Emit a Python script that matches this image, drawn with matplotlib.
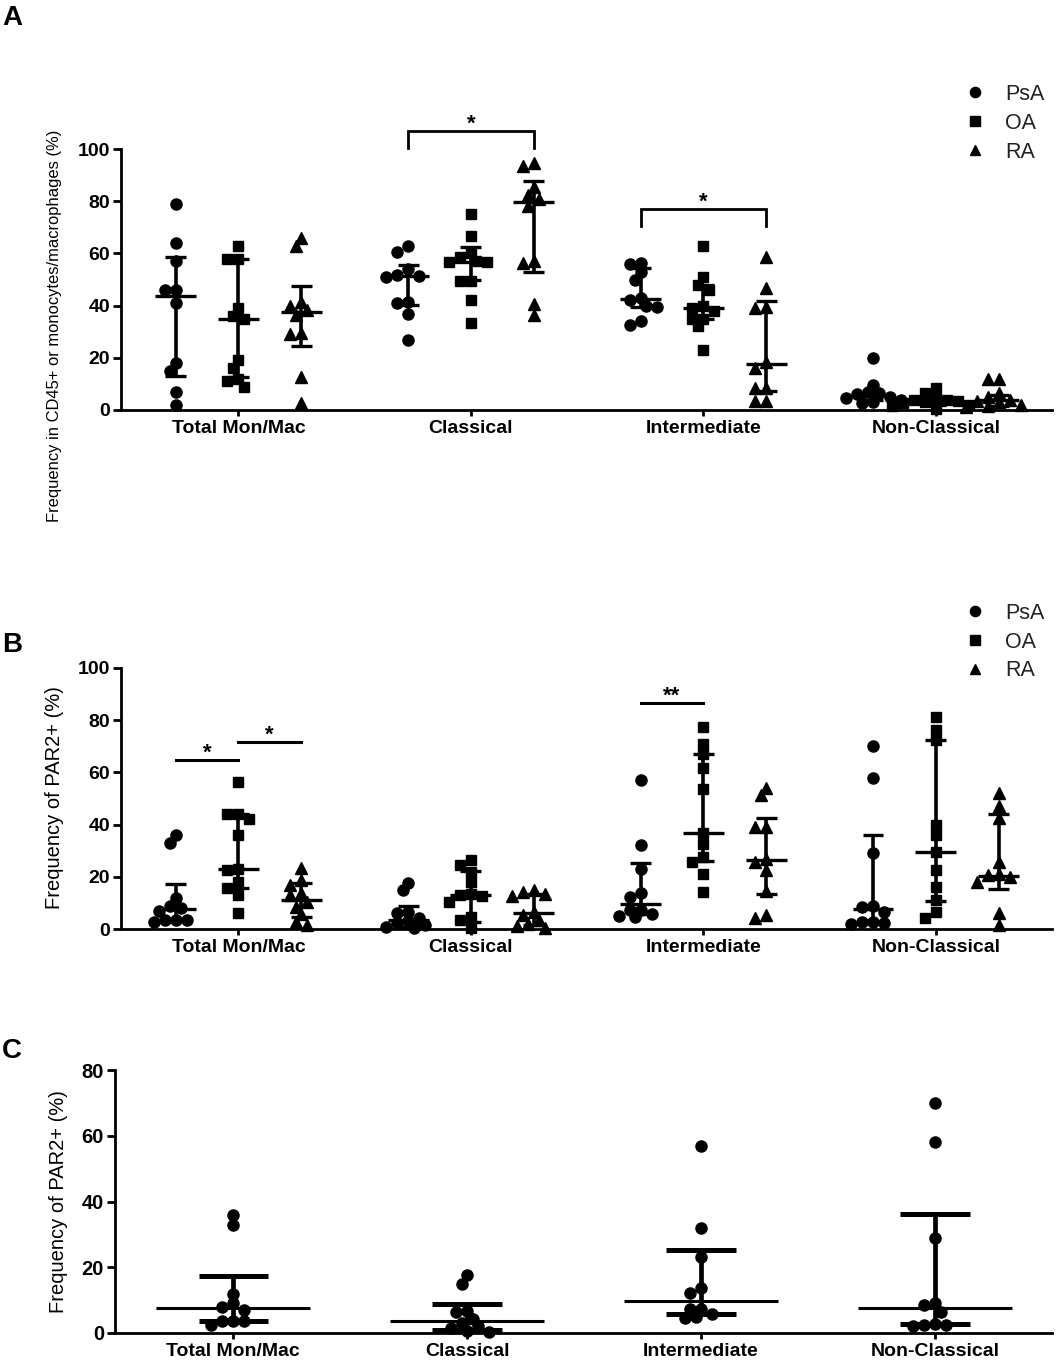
import numpy as np
import matplotlib
matplotlib.use("Agg")
import matplotlib.pyplot as plt
from matplotlib.lines import Line2D

plt.rcParams['font.family'] = ['Liberation Sans', 'DejaVu Sans']

# ---------------- data ----------------
categories = ["Total Mon/Mac", "Classical", "Intermediate", "Non-Classical"]
groups = ["PsA", "OA", "RA"]

# Panel A: frequency in CD45+ or monocytes/macrophages (%)
a_psa = [[79, 64, 57, 46, 46, 41, 18, 15, 7, 2],
         [62.8, 60.7, 53.9, 51.7, 51.5, 51.1, 41.5, 40.9, 36.8, 26.8],
         [56.5, 56, 53, 50, 43, 42, 40, 39.5, 34, 32.5],
         [20, 9.6, 7, 6.5, 6, 5, 4.5, 4, 3, 2.5]]
a_oa = [[63, 58, 58, 39, 36, 35, 19, 16, 12, 11, 9],
        [75, 66.7, 60, 58.5, 57, 56.8, 56.8, 49.5, 49.5, 42, 33.2],
        [63, 51, 48, 46, 40, 39, 38, 35, 35, 32, 23],
        [8.5, 6.5, 4.5, 4, 4, 3.5, 3, 2.5, 2, 1.5, 0.5]]
a_ra = [[66, 63, 41.5, 40, 38.5, 36.5, 29.5, 29, 12.5, 2.5],
        [94.5, 93.5, 85.3, 82.4, 80.7, 78.2, 57.2, 56.4, 40.6, 36.4],
        [58.7, 46.6, 39.6, 39, 18.5, 16, 8.3, 8.3, 3.6, 3.6],
        [12, 12, 6.5, 5, 4, 3.5, 3, 2, 1.5, 1]]
a_psa_med = [43.5, 51.4, 42.5, 5.5]
a_psa_lo = [12.9, 40.2, 39.5, 3.8]
a_psa_hi = [58.8, 55.5, 54.4, 7.2]
a_oa_med = [35, 56.8, 39, 3.5]
a_oa_lo = [12.5, 49.8, 35, 2]
a_oa_hi = [57.8, 62.6, 47.9, 4.5]
a_ra_med = [37.6, 79.6, 17.5, 3.7]
a_ra_lo = [24.7, 52.8, 7.4, 1.5]
a_ra_hi = [47.6, 87.7, 41.9, 5.7]

# Panel B: frequency of PAR2+ (%)
b_psa = [[36, 33, 12, 9, 8, 7, 3.5, 3.5, 3.5, 2.5],
         [17.6, 15, 6.6, 6.3, 4.3, 3.0, 2.2, 1.4, 0.7, 0.2],
         [57, 32, 23, 13.7, 12.2, 7.3, 7.3, 5.7, 5, 4.5],
         [70, 58, 29, 9, 8.5, 6.5, 2.6, 2.5, 2.3, 2.0]]
b_oa = [[56.3, 44, 44, 42, 36, 23, 22.5, 18, 15.6, 13, 6.3],
        [26.4, 24.5, 22, 18, 13.5, 13, 12.5, 10.5, 4.7, 3.4, 0.3],
        [77.5, 71, 67, 61.5, 53.5, 36.7, 32.6, 27.7, 25.8, 21, 14.3],
        [81.3, 76.2, 72.4, 39.8, 36, 29.4, 22.6, 16.2, 11.1, 6.6, 4.1]]
b_ra = [[23.3, 18.8, 16.9, 13.7, 13, 10.5, 8.6, 5.8, 2.8, 1.5],
        [15, 14, 13.5, 12.5, 6.5, 5.5, 3.5, 2, 1, 0.5],
        [54, 51.3, 39.2, 39, 27, 25.8, 22.6, 14.5, 5.4, 4.1],
        [52, 47, 42.4, 25.8, 21, 20.5, 20, 18, 6, 1.5]]
b_psa_med = [7.6, 3.5, 9.7, 7.7]
b_psa_lo = [3.5, 0.8, 5.8, 2.6]
b_psa_hi = [17.3, 8.7, 25.3, 36.2]
b_oa_med = [23, 13, 36.7, 29.4]
b_oa_lo = [15.6, 2.5, 26.2, 10.8]
b_oa_hi = [44, 22.3, 66.9, 72.4]
b_ra_med = [11.2, 6, 26.4, 20.4]
b_ra_lo = [4.7, 1.5, 13.3, 15.2]
b_ra_hi = [17.5, 13.6, 42.4, 44]

# significance annotations: (category, group_from, group_to, height, label)
a_sig = [(1, 0, 2, 107, "*"), (2, 0, 2, 77, "*")]
b_sig = [(0, 0, 1, 64.8, "*"), (0, 1, 2, 71.6, "*"), (2, 0, 1, 86.6, "**")]

# ---------------- layout helpers ----------------
W, H = 1064, 1369
fig = plt.figure(figsize=(W / 100, H / 100), dpi=100)


def rect(left, top, right, bottom):
    return [left / W, 1 - bottom / H, (right - left) / W, (bottom - top) / H]


markers = {"PsA": ("o", 8.0), "OA": ("s", 7.3), "RA": ("^", 8.6)}
OFF = 0.27


def swarm_x(ax, xc, vals, diam):
    p0 = ax.transData.transform((0, 0))
    p1 = ax.transData.transform((1, 1))
    sx = p1[0] - p0[0]
    sy = p1[1] - p0[1]
    ypx = np.asarray(vals, float) * sy
    order = np.argsort(-ypx, kind="stable")
    cands = [0]
    for j in range(1, 30):
        cands += [-j, j]
    placed = []
    offs = np.zeros(len(vals))
    for i in order:
        dx = 0.0
        for c in cands:
            dx = c * diam * 0.5
            if all((dx - px) ** 2 + (ypx[i] - py) ** 2 >= (diam * 0.78) ** 2
                   for px, py in placed):
                break
        offs[i] = dx
        placed.append((dx, ypx[i]))
    return xc + offs / sx


def draw_group(ax, xc, vals, med, lo, hi, grp, med_hw, cap_hw,
               vlw=2.6, caplw=2.4, medlw=2.4):
    m, ms = markers[grp]
    xs = swarm_x(ax, xc, vals, 11)
    ax.plot(xs, vals, ls="none", marker=m, ms=ms, color="black",
            mec="black", clip_on=False, zorder=3)
    ax.vlines(xc, lo, hi, color="black", lw=vlw, zorder=4)
    ax.hlines([lo, hi], xc - cap_hw, xc + cap_hw, color="black", lw=caplw, zorder=4)
    ax.hlines(med, xc - med_hw, xc + med_hw, color="black", lw=medlw, zorder=4)


def style_axes(ax, ymax, ystep, ticksize=14, catsize=14):
    for s in ("top", "right"):
        ax.spines[s].set_visible(False)
    for s in ("left", "bottom"):
        ax.spines[s].set_linewidth(2.0)
    ax.set_ylim(0, ymax)
    ax.set_yticks(np.arange(0, ymax + 1, ystep))
    ax.set_xticks(range(len(categories)))
    ax.set_xticklabels(categories, fontsize=catsize, fontweight="bold")
    ax.tick_params(axis="y", length=6, width=2.0, pad=2, labelsize=ticksize)
    ax.tick_params(axis="x", length=4.5, width=2.0, pad=3.0)
    for t in ax.get_yticklabels():
        t.set_fontweight("bold")
    ax.set_facecolor("none")


def add_legend(ax, top_px, left_px):
    handles = [Line2D([], [], ls="none", marker=markers[g][0],
                      ms=markers[g][1] * 0.92, color="black") for g in groups]
    leg = ax.legend(handles, groups, loc="upper left",
                    bbox_to_anchor=(left_px / W, 1 - top_px / H),
                    bbox_transform=fig.transFigure, frameon=False,
                    fontsize=15.5, handlelength=1.0, handletextpad=0.9,
                    labelspacing=0.36, borderpad=0, borderaxespad=0)
    for t in leg.get_texts():
        t.set_color("#222222")


def add_sig(ax, sigs, bracket):
    for cat, g0, g1, h, lab in sigs:
        x0 = cat + (g0 - 1) * OFF
        x1 = cat + (g1 - 1) * OFF
        if bracket:
            ax.plot([x0, x0, x1, x1], [h - 6.5, h, h, h - 6.5], color="black",
                    lw=2.0, clip_on=False, solid_joinstyle="miter")
        else:
            ax.plot([x0, x1], [h, h], color="black", lw=2.2, clip_on=False)
        ax.text((x0 + x1) / 2, h + 0.5, lab, ha="center", va="baseline",
                fontsize=16, fontweight="bold", clip_on=False)


# ---------------- panel A ----------------
axA = fig.add_axes(rect(121, 149, 1052, 410))
axA.set_xlim(-0.505, 3.5)
style_axes(axA, 100, 20)
for i in range(4):
    draw_group(axA, i - OFF, a_psa[i], a_psa_med[i], a_psa_lo[i], a_psa_hi[i], "PsA", 0.088, 0.045)
    draw_group(axA, i, a_oa[i], a_oa_med[i], a_oa_lo[i], a_oa_hi[i], "OA", 0.088, 0.045)
    draw_group(axA, i + OFF, a_ra[i], a_ra_med[i], a_ra_lo[i], a_ra_hi[i], "RA", 0.088, 0.045)
add_sig(axA, a_sig, True)
add_legend(axA, 84, 964)

# ---------------- panel B ----------------
axB = fig.add_axes(rect(121, 668, 1052, 929))
axB.set_xlim(-0.505, 3.5)
style_axes(axB, 100, 20)
for i in range(4):
    draw_group(axB, i - OFF, b_psa[i], b_psa_med[i], b_psa_lo[i], b_psa_hi[i], "PsA", 0.088, 0.045)
    draw_group(axB, i, b_oa[i], b_oa_med[i], b_oa_lo[i], b_oa_hi[i], "OA", 0.088, 0.045)
    draw_group(axB, i + OFF, b_ra[i], b_ra_med[i], b_ra_lo[i], b_ra_hi[i], "RA", 0.088, 0.045)
add_sig(axB, b_sig, False)
add_legend(axB, 603, 964)

# ---------------- panel C (PsA only) ----------------
axC = fig.add_axes(rect(115, 1070, 1052, 1333))
axC.set_xlim(-0.505, 3.5)
style_axes(axC, 80, 20, ticksize=14.5, catsize=14)
for i in range(4):
    draw_group(axC, i, b_psa[i], b_psa_med[i], b_psa_lo[i], b_psa_hi[i], "PsA",
               0.33, 0.148, vlw=3.4, caplw=3.6, medlw=2.2)

# ---------------- labels ----------------
fig.text(55 / W, 1 - 326 / H, "Frequency in CD45+ or monocytes/macrophages (%)",
         rotation=90, ha="center", va="center", fontsize=11.9)
fig.text(55 / W, 1 - 798 / H, "Frequency of PAR2+ (%)",
         rotation=90, ha="center", va="center", fontsize=14.5)
fig.text(58 / W, 1 - 1202 / H, "Frequency of PAR2+ (%)",
         rotation=90, ha="center", va="center", fontsize=14.5)

for lab, ybase in (("A", 25), ("B", 652), ("C", 1058)):
    fig.text(2 / W, 1 - ybase / H, lab, ha="left", va="baseline",
             fontsize=20, fontweight="bold")

fig.savefig("out.png", dpi=100, facecolor="white")
